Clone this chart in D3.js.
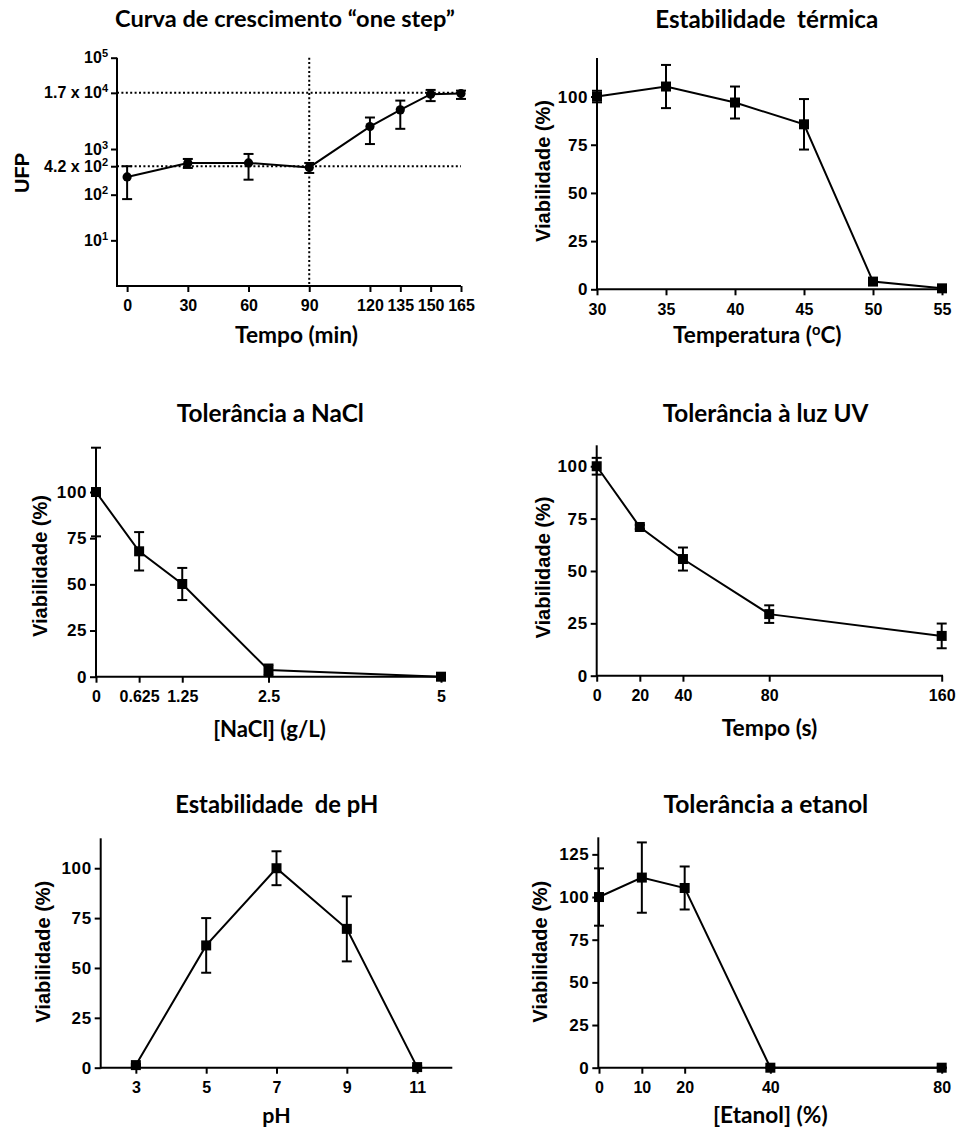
<!DOCTYPE html>
<html>
<head>
<meta charset="utf-8">
<script src="https://cdn.jsdelivr.net/npm/d3@7"></script>
<style>
  body { margin: 0; background: #fff; }
  svg text { fill: #000; }
  .tick text { font-family: "Liberation Sans", Arial, sans-serif; font-weight: bold; }
  .title, .x-title { font-family: Lato, "Open Sans", sans-serif; font-weight: bold; white-space: pre; }
  .y-title { font-family: "Liberation Sans", Arial, sans-serif; font-weight: bold; font-size: 20px; }
</style>
</head>
<body>
<div id="chart"></div>
<script>
// one step growth curve (UFP, log scale)
const growthTime = [0, 30, 60, 90, 120, 135, 150, 165];
const growthUFP = [245, 495, 495, 396, 3100, 7200, 15900, 16400];
const growthUpper = [420, 606, 780, 495, 4900, 11500, 19700, 19000];
const growthLower = [80, 385, 213, 299, 1285, 2770, 11200, 12500];
const growthRefTime = [90];
const growthRefUFP = [420, 17000];
const growthTicks = [10, 100, 420, 1000, 17000, 100000];
const growthTickBase = ['10', '10', '4.2 x 10', '10', '1.7 x 10', '10'];
const growthTickExp = ['1', '2', '2', '3', '4', '5'];

// thermal stability
const tempC = [30, 35, 40, 45, 50, 55];
const tempViab = [100, 105.2, 96.9, 85.6, 4, 0.5];
const tempSD = [3, 11.2, 8.3, 13.1, 1, 0.5];

// NaCl tolerance
const naclConc = [0, 0.625, 1.25, 2.5, 5];
const naclViab = [100, 67.9, 50.2, 3.6, 0];
const naclSD = [24, 10.4, 8.7, 3, 0.5];

// UV tolerance
const uvTime = [0, 20, 40, 80, 160];
const uvViab = [100, 71, 55.7, 29.4, 19];
const uvSD = [4, 1, 5.5, 4.2, 5.9];

// pH stability
const phValue = [3, 5, 7, 9, 11];
const phViab = [1.3, 61.3, 100, 69.6, 0.3];
const phSD = [0.5, 13.7, 8.5, 16.3, 0.5];

// ethanol tolerance
const etOHConc = [0, 10, 20, 40, 80];
const etOHViab = [100, 111.4, 105.3, 0, 0];
const etOHSD = [16.8, 20.6, 12.6, 0, 0];

const viabTicks = [0, 25, 50, 75, 100];
const viabTicksWide = [0, 25, 50, 75, 100, 125];

const sdBand = (m, s) => m.map((v, i) => [v - s[i], v + s[i]]);

const panels = [
  {
    id: 'growth', log: true, marker: 'circle',
    left: 117, right: 461, top: 57.7, bottom: 286,
    xDomain: [-5, 165], xRange: [117, 461], yDomain: [1, 100000],
    xTicks: growthTime, yTicks: growthTicks,
    xs: growthTime, ys: growthUFP, err: growthLower.map((v, i) => [v, growthUpper[i]]),
    title: { text: 'Curva de crescimento “one step”', cx: 285, y: 27.3, w: 340 },
    xTitle: { text: 'Tempo (min)', cx: 296.5, y: 343, w: 123 },
    yTitle: { text: 'UFP', x: 28.5, cy: 173 }
  },
  {
    id: 'temp', marker: 'square',
    left: 597, right: 946, top: 58, bottom: 289.3,
    xDomain: [30, 55], xRange: [597, 942], yDomain: [0, 120],
    xTicks: tempC, yTicks: viabTicks,
    xs: tempC, ys: tempViab, err: sdBand(tempViab, tempSD),
    title: { text: 'Estabilidade  térmica', cx: 766.7, y: 28.3, w: 223 },
    xTitle: { text: 'Temperatura (', sup: 'o', tail: 'C)', cx: 757.3, y: 343, w: 168.6 },
    yTitle: { text: 'Viabilidade (%)', x: 549.5, cy: 171 }
  },
  {
    id: 'nacl', marker: 'square',
    left: 96, right: 445, top: 447.7, bottom: 676.7,
    xDomain: [0, 5], xRange: [96, 441], yDomain: [0, 124],
    xTicks: naclConc, yTicks: viabTicks,
    xs: naclConc, ys: naclViab, err: sdBand(naclViab, naclSD),
    title: { text: 'Tolerância a NaCl', cx: 270.3, y: 421.7, w: 187.3 },
    xTitle: { text: '[NaCl] (g/L)', cx: 269.5, y: 736.7, w: 112.7 },
    yTitle: { text: 'Viabilidade (%)', x: 46.5, cy: 566 }
  },
  {
    id: 'uv', marker: 'square',
    left: 596.7, right: 943, top: 445.3, bottom: 675.7,
    xDomain: [0, 160], xRange: [596.7, 941.7], yDomain: [0, 110],
    xTicks: uvTime, yTicks: viabTicks,
    xs: uvTime, ys: uvViab, err: sdBand(uvViab, uvSD),
    title: { text: 'Tolerância à luz UV', cx: 765.5, y: 421.7, w: 205.7 },
    xTitle: { text: 'Tempo (s)', cx: 769.5, y: 735.5, w: 95.7 },
    yTitle: { text: 'Viabilidade (%)', x: 549.5, cy: 567.5 }
  },
  {
    id: 'ph', marker: 'square',
    left: 100.7, right: 452.3, top: 838.3, bottom: 1067.7,
    xDomain: [2, 12], xRange: [100.7, 452.3], yDomain: [0, 115],
    xTicks: phValue, yTicks: viabTicks,
    xs: phValue, ys: phViab, err: sdBand(phViab, phSD),
    title: { text: 'Estabilidade  de pH', cx: 276.7, y: 813.3, w: 203.3 },
    xTitle: { text: 'pH', cx: 276.5, y: 1122.5, w: 28.3 },
    yTitle: { text: 'Viabilidade (%)', x: 49.5, cy: 951.7 }
  },
  {
    id: 'etoh', marker: 'square',
    left: 598.3, right: 946, top: 837.3, bottom: 1067.7,
    xDomain: [0, 80], xRange: [599, 941.7], yDomain: [0, 135],
    xTicks: etOHConc, yTicks: viabTicksWide,
    xs: etOHConc, ys: etOHViab, err: sdBand(etOHViab, etOHSD),
    title: { text: 'Tolerância a etanol', cx: 765.8, y: 813.3, w: 205 },
    xTitle: { text: '[Etanol] (%)', cx: 770.3, y: 1122.5, w: 114.7 },
    yTitle: { text: 'Viabilidade (%)', x: 547.2, cy: 951.7 }
  }
];

const svg = d3.select('#chart').append('svg')
  .attr('width', 957)
  .attr('height', 1129);

// scale the font so the text spans the measured width
function fitWidth(text, width) {
  const w = text.node().getComputedTextLength();
  text.attr('font-size', +text.attr('font-size') * width / w);
}

function drawPanel(p) {
  const g = svg.append('g').attr('class', 'panel ' + p.id);

  const x = d3.scaleLinear().domain(p.xDomain).range(p.xRange);
  const y = (p.log ? d3.scaleLog() : d3.scaleLinear())
    .domain(p.yDomain)
    .range([p.bottom, p.top]);

  if (p.log) {
    const ref = g.append('g').attr('class', 'ref')
      .attr('stroke', '#000').attr('stroke-width', 2).attr('stroke-dasharray', '2,2.4');
    ref.selectAll('line.h').data(growthRefUFP).join('line')
      .attr('class', 'h')
      .attr('x1', p.left).attr('x2', p.right)
      .attr('y1', d => y(d)).attr('y2', d => y(d));
    ref.selectAll('line.v').data(growthRefTime).join('line')
      .attr('class', 'v')
      .attr('x1', d => x(d)).attr('x2', d => x(d))
      .attr('y1', p.top).attr('y2', p.bottom);
  }

  const xAxis = g.append('g')
    .attr('class', 'axis x')
    .attr('transform', `translate(0,${p.bottom})`)
    .call(d3.axisBottom(x).tickValues(p.xTicks).tickFormat(d => String(d))
      .tickSize(6).tickPadding(8).tickSizeOuter(0));

  const yAxis = g.append('g')
    .attr('class', 'axis y')
    .attr('transform', `translate(${p.left},0)`)
    .call(d3.axisLeft(y).tickValues(p.yTicks).tickFormat(d => p.log ? '' : String(d))
      .tickSize(6).tickPadding(3).tickSizeOuter(0));

  g.selectAll('.axis').attr('font-family', null).attr('font-size', null);
  g.selectAll('.domain').remove();
  g.selectAll('.tick line').attr('stroke', '#000').attr('stroke-width', 2);
  xAxis.selectAll('text').attr('font-size', 16);

  if (p.log) {
    yAxis.selectAll('.tick text').each(function(d, i) {
      const t = d3.select(this).attr('font-size', 16);
      t.append('tspan').text(growthTickBase[i]);
      t.append('tspan').attr('font-size', 11).attr('baseline-shift', 'super').text(growthTickExp[i]);
    });
  } else {
    yAxis.selectAll('text').attr('font-size', 17).attr('letter-spacing', 0.6);
  }

  // axis lines
  g.append('line')
    .attr('x1', p.left).attr('x2', p.right)
    .attr('y1', p.bottom).attr('y2', p.bottom)
    .attr('stroke', '#000').attr('stroke-width', 2);
  g.append('line')
    .attr('x1', p.left).attr('x2', p.left)
    .attr('y1', p.top).attr('y2', p.bottom + 1)
    .attr('stroke', '#000').attr('stroke-width', 2);

  const pts = p.xs.map((v, i) => ({ x: v, y: p.ys[i], lo: p.err[i][0], hi: p.err[i][1] }));

  g.append('path')
    .datum(pts)
    .attr('fill', 'none')
    .attr('stroke', '#000')
    .attr('stroke-width', 2)
    .attr('d', d3.line().x(d => x(d.x)).y(d => y(d.y)));

  const bars = g.append('g').attr('class', 'errors')
    .attr('stroke', '#000').attr('stroke-width', 2)
    .selectAll('g').data(pts).join('g');
  bars.append('line')
    .attr('x1', d => x(d.x)).attr('x2', d => x(d.x))
    .attr('y1', d => y(d.lo)).attr('y2', d => y(d.hi));
  bars.append('line')
    .attr('x1', d => x(d.x) - 5).attr('x2', d => x(d.x) + 5)
    .attr('y1', d => y(d.lo)).attr('y2', d => y(d.lo));
  bars.append('line')
    .attr('x1', d => x(d.x) - 5).attr('x2', d => x(d.x) + 5)
    .attr('y1', d => y(d.hi)).attr('y2', d => y(d.hi));

  const marks = g.append('g').attr('class', 'markers');
  if (p.marker === 'circle') {
    marks.selectAll('circle').data(pts).join('circle')
      .attr('cx', d => x(d.x)).attr('cy', d => y(d.y)).attr('r', 4.6)
      .attr('fill', '#000');
  } else {
    marks.selectAll('rect').data(pts).join('rect')
      .attr('x', d => x(d.x) - 5).attr('y', d => y(d.y) - 5)
      .attr('width', 10).attr('height', 10)
      .attr('fill', '#000');
  }

  const title = g.append('text')
    .attr('class', 'title')
    .attr('x', p.title.cx).attr('y', p.title.y)
    .attr('text-anchor', 'middle')
    .attr('font-size', 24)
    .text(p.title.text);
  fitWidth(title, p.title.w);

  const xt = g.append('text')
    .attr('class', 'x-title')
    .attr('x', p.xTitle.cx).attr('y', p.xTitle.y)
    .attr('text-anchor', 'middle')
    .attr('font-size', 22);
  xt.append('tspan').text(p.xTitle.text);
  if (p.xTitle.sup) {
    xt.append('tspan').attr('font-size', '65%').attr('baseline-shift', 'super').text(p.xTitle.sup);
    xt.append('tspan').text(p.xTitle.tail);
  }
  fitWidth(xt, p.xTitle.w);

  g.append('text')
    .attr('class', 'y-title')
    .attr('transform', `translate(${p.yTitle.x},${p.yTitle.cy}) rotate(-90)`)
    .attr('text-anchor', 'middle')
    .text(p.yTitle.text);
}

panels.forEach(drawPanel);
</script>
</body>
</html>
